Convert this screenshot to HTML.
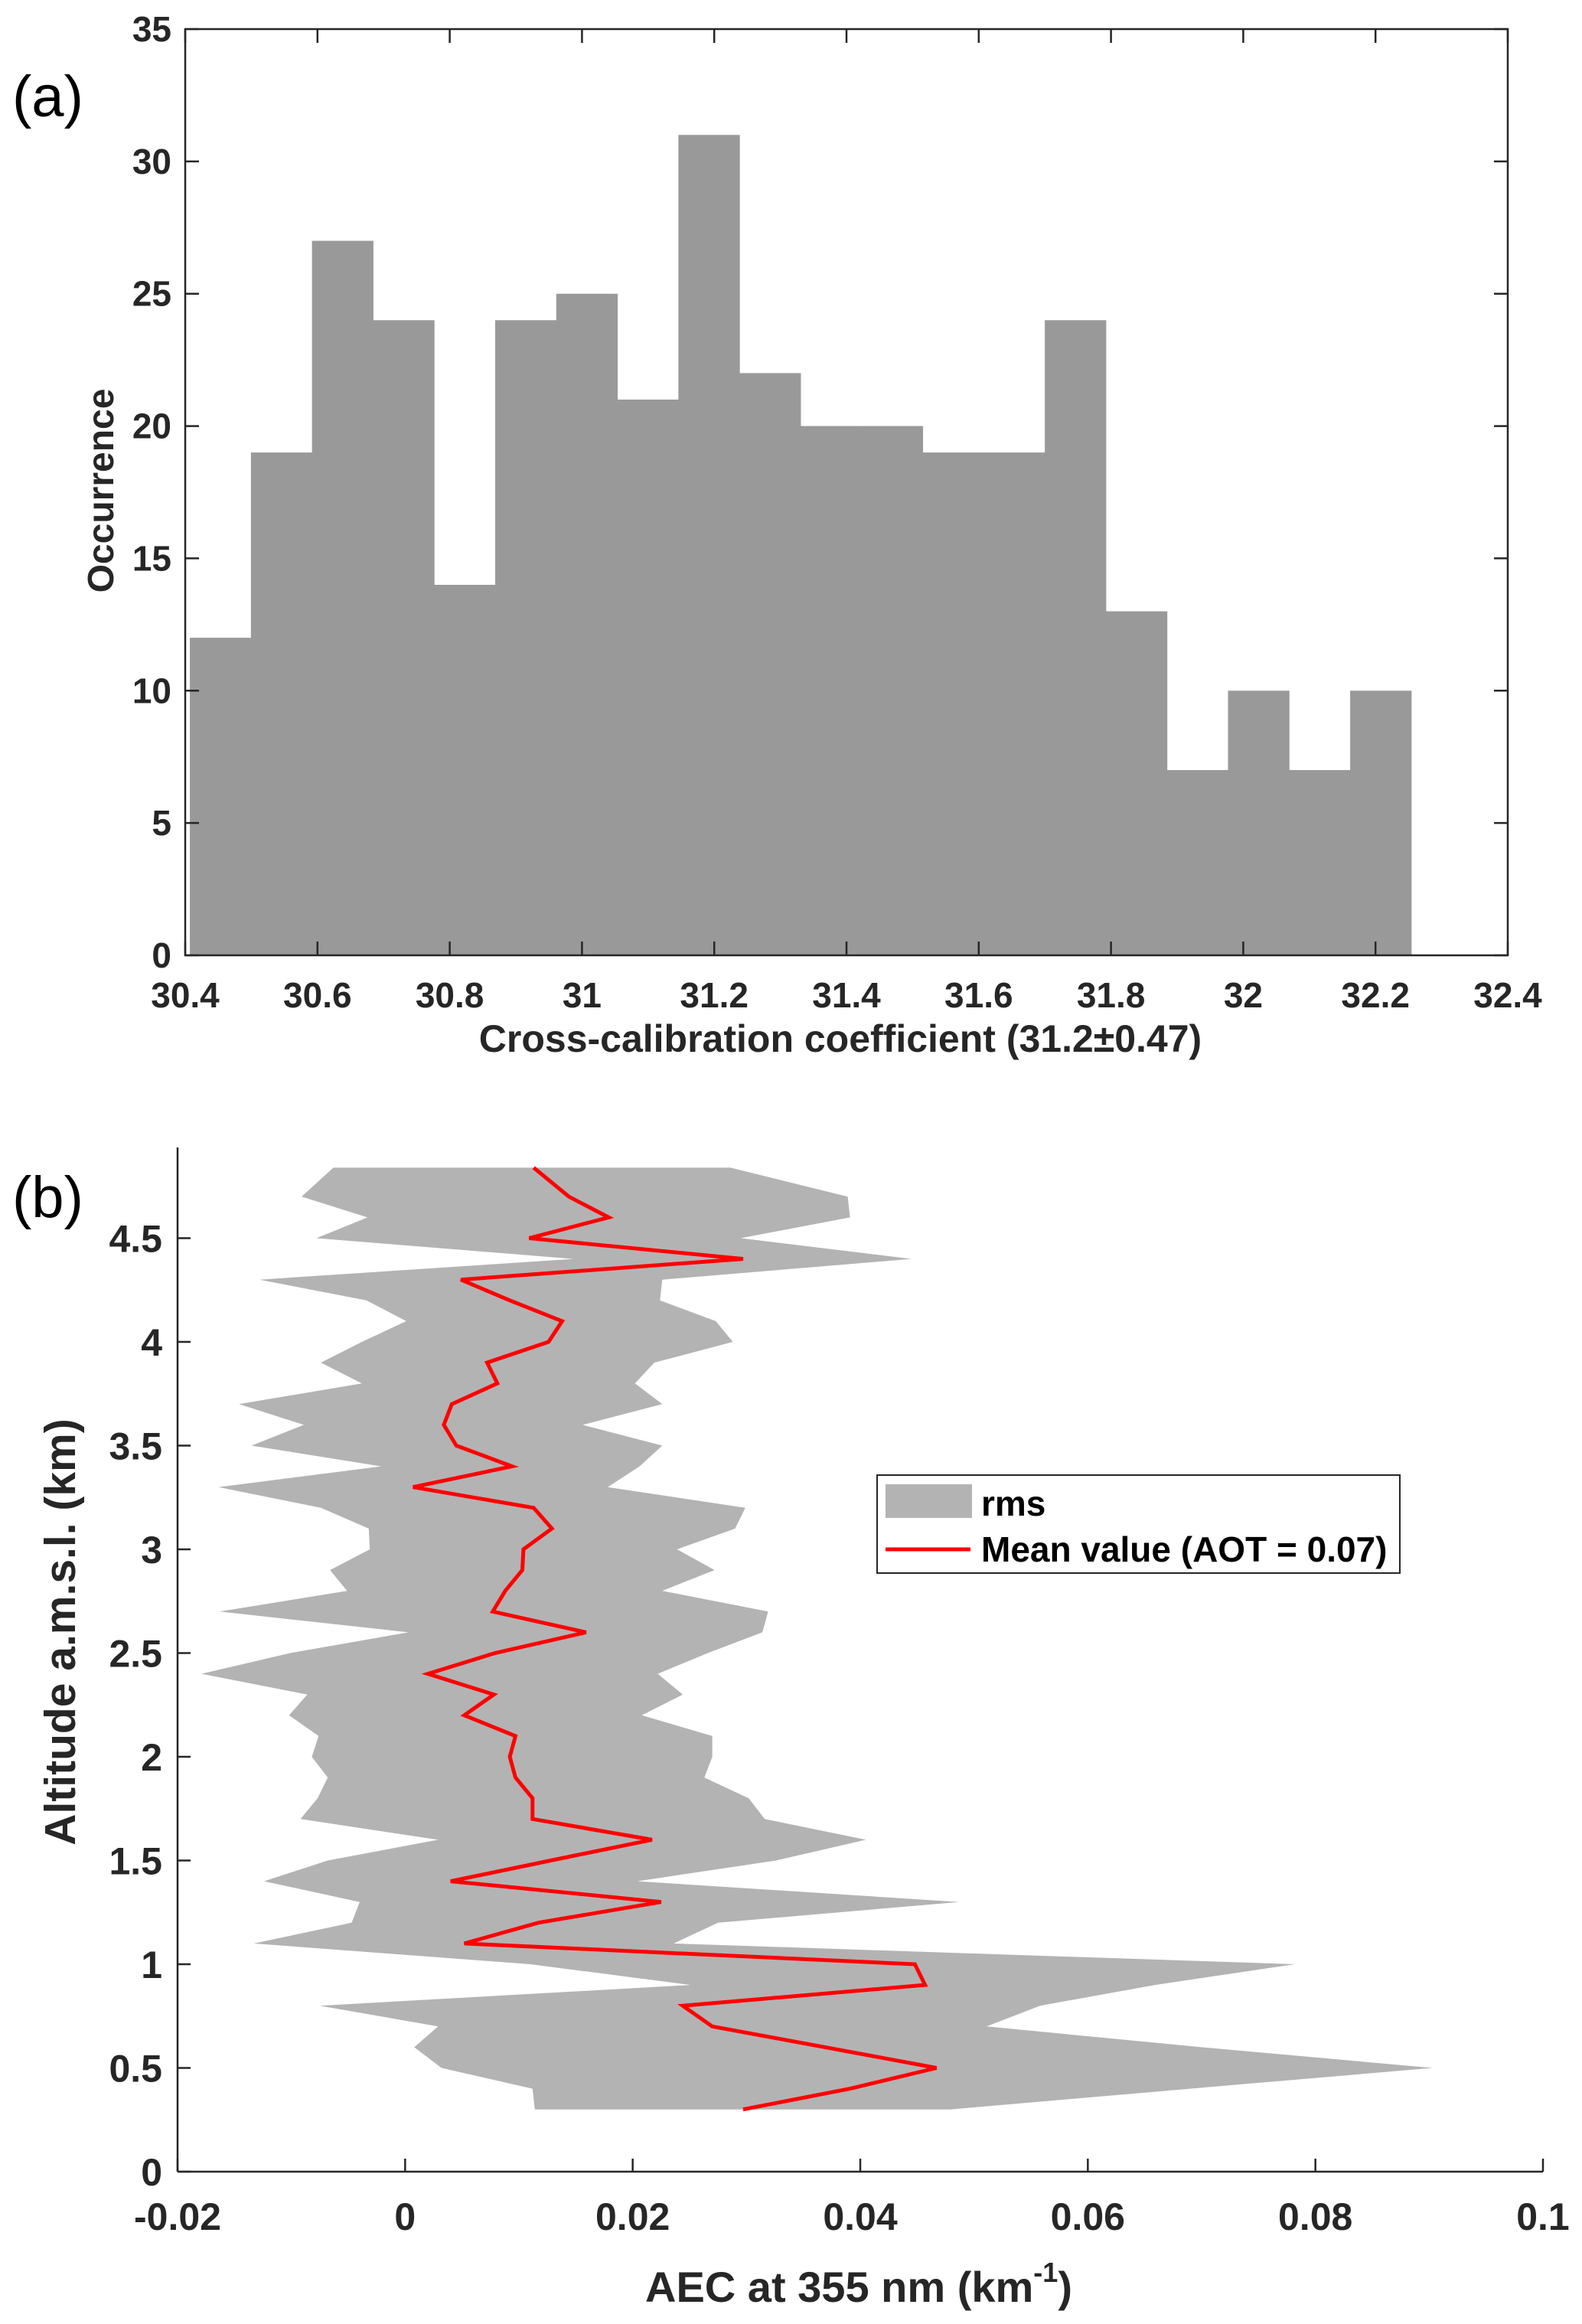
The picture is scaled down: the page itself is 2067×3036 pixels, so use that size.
<!DOCTYPE html>
<html><head><meta charset="utf-8"><style>
html,body{margin:0;padding:0;background:#fff;}
svg{display:block;font-family:"Liberation Sans",Arial,sans-serif;}
</style></head><body>
<svg id="fig" width="2067" height="3036" viewBox="0 0 2067 3036" xmlns="http://www.w3.org/2000/svg">
<g id="pa"></g>
<g id="pb"></g>
</svg>
<script>
// ---- Panel (a) data ----
const binStart = 30.407;
const binWidth = 0.09235;
const histCounts = [12,19,27,24,14,24,25,21,31,22,20,20,19,19,24,13,7,10,7,10];
const histXTicks = [30.4,30.6,30.8,31,31.2,31.4,31.6,31.8,32,32.2,32.4];
const histXTickLabels = ["30.4","30.6","30.8","31","31.2","31.4","31.6","31.8","32","32.2","32.4"];
const histYTicks = [0,5,10,15,20,25,30,35];

// ---- Panel (b) data ----
const altitude = [0.3,0.4,0.5,0.6,0.7,0.8,0.9,1.0,1.1,1.2,1.3,1.4,1.5,1.6,1.7,1.8,1.9,2.0,2.1,2.2,2.3,2.4,2.5,2.6,2.7,2.8,2.9,3.0,3.1,3.2,3.3,3.4,3.5,3.6,3.7,3.8,3.9,4.0,4.1,4.2,4.3,4.4,4.5,4.6,4.7,4.84];
const meanAEC = [0.0297,0.0391,0.0467,0.0369,0.0270,0.0244,0.0457,0.0448,0.0052,0.0117,0.0225,0.0040,0.0128,0.0217,0.0112,0.0112,0.0097,0.0092,0.0097,0.0052,0.0078,0.0020,0.0079,0.0159,0.0077,0.0088,0.0103,0.0104,0.0129,0.0113,0.0007,0.0094,0.0045,0.0034,0.0041,0.0081,0.0072,0.0126,0.0138,0.0092,0.0049,0.0297,0.0109,0.0179,0.0144,0.0113];
const lowerAEC = [0.0114,0.0112,0.0032,0.0008,0.0029,-0.0075,0.0251,0.0110,-0.0133,-0.0047,-0.0040,-0.0124,-0.0068,0.0029,-0.0092,-0.0077,-0.0068,-0.0082,-0.0076,-0.0102,-0.0086,-0.0179,-0.0101,0.0003,-0.0163,-0.0051,-0.0066,-0.0031,-0.0032,-0.0074,-0.0164,-0.0021,-0.0135,-0.0089,-0.0146,-0.0038,-0.0074,-0.0038,0.0001,-0.0034,-0.0128,0.0148,-0.0078,-0.0033,-0.0091,-0.0063];
const upperAEC = [0.0479,0.0690,0.0903,0.0700,0.0511,0.0558,0.0659,0.0782,0.0236,0.0275,0.0487,0.0204,0.0326,0.0405,0.0316,0.0302,0.0263,0.0270,0.0270,0.0208,0.0244,0.0222,0.0266,0.0314,0.0319,0.0226,0.0272,0.0239,0.0290,0.0299,0.0178,0.0206,0.0226,0.0156,0.0226,0.0202,0.0219,0.0288,0.0273,0.0224,0.0226,0.0445,0.0295,0.0391,0.0389,0.0286];
const profXTicks = [-0.02,0,0.02,0.04,0.06,0.08,0.1];
const profXTickLabels = ["-0.02","0","0.02","0.04","0.06","0.08","0.1"];
const profYTicks = [0,0.5,1,1.5,2,2.5,3,3.5,4,4.5];
const profYTickLabels = ["0","0.5","1","1.5","2","2.5","3","3.5","4","4.5"];

const NS = "http://www.w3.org/2000/svg";
function mk(parent, tag, attrs, text){
  const e = document.createElementNS(NS, tag);
  for (const k in attrs) e.setAttribute(k, attrs[k]);
  if (text !== undefined) e.textContent = text;
  parent.appendChild(e);
  return e;
}
const AX = "#262626";

// ===== Panel (a) =====
const pa = document.getElementById('pa');
const aL=242, aR=1970, aT=38, aB=1248;
const ax = v => aL + (v-30.4)/(32.4-30.4)*(aR-aL);
const ay = v => aB - v/35*(aB-aT);

histCounts.forEach((c,i)=>{
  const x0 = ax(binStart + i*binWidth), x1 = ax(binStart + (i+1)*binWidth);
  const r = mk(pa,'rect',{x:x0,y:ay(c),width:x1-x0+0.5,height:ay(0)-ay(c),fill:'#999999'});
  
  
});
const boxA = mk(pa,'rect',{x:aL,y:aT,width:aR-aL,height:aB-aT,fill:'none',stroke:AX,'stroke-width':2.5});


histXTicks.forEach((t,i)=>{
  const x = ax(t);
  mk(pa,'line',{x1:x,y1:aB,x2:x,y2:aB-18,stroke:AX,'stroke-width':2.5});
  mk(pa,'line',{x1:x,y1:aT,x2:x,y2:aT+18,stroke:AX,'stroke-width':2.5});
  const tl = mk(pa,'text',{x:x,y:1316,'text-anchor':'middle','font-size':46,'font-weight':'bold',fill:'#262626'},histXTickLabels[i]);
  
  
});
histYTicks.forEach(t=>{
  const y = ay(t);
  mk(pa,'line',{x1:aL,y1:y,x2:aL+18,y2:y,stroke:AX,'stroke-width':2.5});
  mk(pa,'line',{x1:aR,y1:y,x2:aR-18,y2:y,stroke:AX,'stroke-width':2.5});
  const tl = mk(pa,'text',{x:224,y:y+16,'text-anchor':'end','font-size':46,'font-weight':'bold',fill:'#262626'},String(t));
  
  
});
const xa = mk(pa,'text',{x:1098,y:1374,'text-anchor':'middle','font-size':50,'font-weight':'bold',fill:'#262626'},"Cross-calibration coefficient (31.2\u00B10.47)");


const ya = mk(pa,'text',{x:0,y:0,'text-anchor':'middle','font-size':48,'font-weight':'bold',fill:'#262626',transform:'translate(148,641) rotate(-90)'},"Occurrence");


const la = mk(pa,'text',{x:16,y:152,'font-size':76,fill:'#000'},"(a)");



// ===== Panel (b) =====
const pb = document.getElementById('pb');
const bL=232, bR=2016, bT=1499, bB=2837;
const bx = v => bL + (v+0.02)/0.12*(bR-bL);
const by = v => bB - v*271;

let pts = [];
altitude.forEach((a,i)=>pts.push(bx(upperAEC[i]).toFixed(1)+','+by(a).toFixed(1)));
for (let i=altitude.length-1;i>=0;i--) pts.push(bx(lowerAEC[i]).toFixed(1)+','+by(altitude[i]).toFixed(1));
const band = mk(pb,'polygon',{points:pts.join(' '),fill:'#b3b3b3'});


const mline = mk(pb,'polyline',{points:altitude.map((a,i)=>bx(meanAEC[i]).toFixed(1)+','+by(a).toFixed(1)).join(' '),fill:'none',stroke:'#ff0000','stroke-width':5,'stroke-linejoin':'miter'});



const yAxisB = mk(pb,'line',{x1:bL,y1:bT,x2:bL,y2:bB,stroke:AX,'stroke-width':2.5});


const xAxisB = mk(pb,'line',{x1:bL,y1:bB,x2:bR,y2:bB,stroke:AX,'stroke-width':2.5});


profXTicks.forEach((t,i)=>{
  const x = bx(t);
  mk(pb,'line',{x1:x,y1:bB,x2:x,y2:bB-17,stroke:AX,'stroke-width':2.5});
  const tl = mk(pb,'text',{x:x,y:2913,'text-anchor':'middle','font-size':50,'font-weight':'bold',fill:'#262626'},profXTickLabels[i]);
  
  
});
profYTicks.forEach((t,i)=>{
  const y = by(t);
  mk(pb,'line',{x1:bL,y1:y,x2:bL+17,y2:y,stroke:AX,'stroke-width':2.5});
  const tl = mk(pb,'text',{x:212,y:y+18,'text-anchor':'end','font-size':50,'font-weight':'bold',fill:'#262626'},profYTickLabels[i]);
  
  
});
const xb = mk(pb,'text',{x:1122,y:3007,'text-anchor':'middle','font-size':56,'font-weight':'bold',fill:'#262626'});


mk(xb,'tspan',{},"AEC at 355 nm (km");
mk(xb,'tspan',{'font-size':36,dy:-26},"-1");
mk(xb,'tspan',{dy:26},")");
const yb = mk(pb,'text',{x:0,y:0,'text-anchor':'middle','font-size':57,'font-weight':'bold',fill:'#262626',transform:'translate(98,2132) rotate(-90)'},"Altitude a.m.s.l. (km)");


const lb = mk(pb,'text',{x:16,y:1590,'font-size':76,fill:'#000'},"(b)");



// legend
const leg = mk(pb,'g',{});


mk(leg,'rect',{x:1146,y:1927,width:683,height:128,fill:'#fff',stroke:AX,'stroke-width':2});
const sw = mk(leg,'rect',{x:1157,y:1939,width:113,height:44,fill:'#b3b3b3'});


const t1 = mk(leg,'text',{x:1282,y:1980,'font-size':46,'font-weight':'bold',fill:'#000'},"rms");


const sl = mk(leg,'line',{x1:1157,y1:2024,x2:1268,y2:2024,stroke:'#ff0000','stroke-width':5});


const t2 = mk(leg,'text',{x:1282,y:2040,'font-size':46,'font-weight':'bold',fill:'#000'},"Mean value (AOT = 0.07)");


</script>
</body></html>
